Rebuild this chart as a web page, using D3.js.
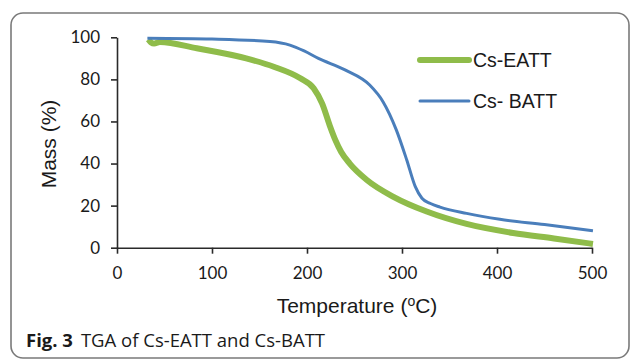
<!DOCTYPE html>
<html>
<head>
<meta charset="utf-8">
<script src="https://cdn.jsdelivr.net/npm/d3@7"></script>
<style>
  html, body { margin: 0; padding: 0; background: #fff; }
  svg { display: block; }
  .axis path, .axis line { stroke: #2a2a2a; stroke-width: 1.6; }
  .axis text { font-family: Lato, "Open Sans", sans-serif; font-size: 17px; fill: #1a1a1a; }
</style>
</head>
<body>
<svg id="chart" width="630" height="361"></svg>
<script>
// series: [temperature (°C), mass (%)]
const eattTemp = [33, 36, 39, 45, 84, 136, 165, 193, 207, 216, 224, 230, 236, 245, 263, 291, 326, 368, 417, 460, 501];
const eattMass = [99, 97.5, 97, 97.8, 94.8, 90, 86, 80.5, 75.8, 68.5, 58, 51, 45.5, 40, 32.2, 24.2, 17.2, 11.3, 7, 4.4, 1.8];

const battTemp = [32, 100, 161, 182, 197, 212, 240, 266, 280, 294, 305, 314, 321, 330, 340, 368, 403, 450, 501];
const battMass = [99.6, 99.2, 98, 96.3, 93.5, 90, 84.5, 77.3, 69.4, 56, 41.7, 29, 23.5, 21, 19.3, 16.3, 13.5, 11, 8];

const xTicks = [0, 100, 200, 300, 400, 500];
const yTicks = [0, 20, 40, 60, 80, 100];
const seriesNames = ["Cs-EATT", "Cs- BATT"];

const svg = d3.select("#chart");

// rounded frame around the figure
svg.append("rect")
    .attr("x", 11).attr("y", 13)
    .attr("width", 618).attr("height", 345)
    .attr("rx", 12)
    .attr("fill", "none")
    .attr("stroke", "#7a7a7a")
    .attr("stroke-width", 1.6);

const x = d3.scaleLinear().domain([0, 500]).range([117, 592]);
const y = d3.scaleLinear().domain([0, 100]).range([247.7, 37.3]);

svg.append("g")
    .attr("class", "axis")
    .attr("transform", "translate(0,247.7)")
    .call(d3.axisBottom(x).tickValues(xTicks).tickSize(6).tickSizeOuter(0).tickPadding(13));

svg.append("g")
    .attr("class", "axis")
    .attr("transform", "translate(117,0)")
    .call(d3.axisLeft(y).tickValues(yTicks).tickSize(6).tickSizeOuter(0).tickPadding(11));

const line = d3.line()
    .x(d => x(d[0]))
    .y(d => y(d[1]))
    .curve(d3.curveMonotoneX);

const eatt = eattTemp.map((t, i) => [t, eattMass[i]]);
const batt = battTemp.map((t, i) => [t, battMass[i]]);

svg.append("path")
    .datum(eatt)
    .attr("d", line)
    .attr("fill", "none")
    .attr("stroke", "#8fbc4a")
    .attr("stroke-width", 6)
    .attr("stroke-linejoin", "round");

svg.append("path")
    .datum(batt)
    .attr("d", line)
    .attr("fill", "none")
    .attr("stroke", "#4a7ebb")
    .attr("stroke-width", 3)
    .attr("stroke-linejoin", "round");

// legend
const legend = [
    { name: seriesNames[0], color: "#8fbc4a", width: 6, y: 60 },
    { name: seriesNames[1], color: "#4a7ebb", width: 3, y: 101 }
];
const lg = svg.append("g").selectAll("g").data(legend).enter().append("g");
lg.append("line")
    .attr("x1", 420).attr("x2", 469)
    .attr("y1", d => d.y).attr("y2", d => d.y)
    .attr("stroke", d => d.color)
    .attr("stroke-width", d => d.width)
    .attr("stroke-linecap", "round");
lg.append("text")
    .attr("x", 473)
    .attr("y", d => d.y)
    .attr("dy", "0.35em")
    .attr("font-family", "'Liberation Sans', Arial, sans-serif")
    .attr("font-size", 19.5)
    .attr("fill", "#1a1a1a")
    .text(d => d.name);

// axis titles
const xt = svg.append("text")
    .attr("x", 357)
    .attr("y", 313)
    .attr("text-anchor", "middle")
    .attr("font-family", "'Liberation Sans', Arial, sans-serif")
    .attr("font-size", 21)
    .attr("fill", "#1a1a1a");
xt.append("tspan").text("Temperature (");
xt.append("tspan").attr("font-size", 14).attr("dy", -7).text("o");
xt.append("tspan").attr("dy", 7).text("C)");

svg.append("text")
    .attr("transform", "translate(56,144) rotate(-90)")
    .attr("text-anchor", "middle")
    .attr("font-family", "'Liberation Sans', Arial, sans-serif")
    .attr("font-size", 21)
    .attr("fill", "#1a1a1a")
    .text("Mass (%)");

// caption
const cap = svg.append("text")
    .attr("x", 26)
    .attr("y", 347)
    .attr("font-family", "'Open Sans', 'Noto Sans', sans-serif")
    .attr("font-size", 18.5)
    .attr("fill", "#1a1a1a");
cap.append("tspan").attr("font-weight", "bold").text("Fig. 3");
cap.append("tspan").attr("dx", 8).text("TGA of Cs-EATT and Cs-BATT");
</script>
</body>
</html>
